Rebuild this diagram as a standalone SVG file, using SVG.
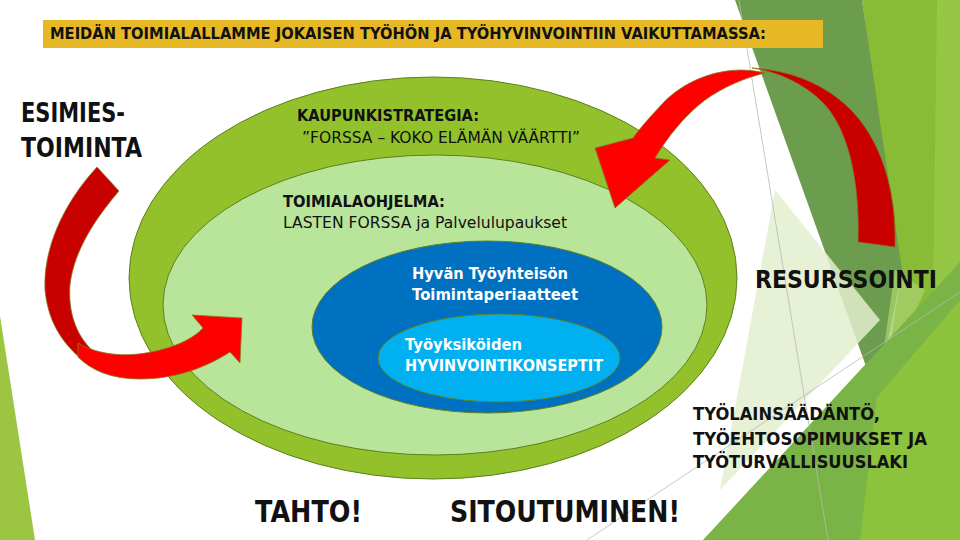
<svg xmlns="http://www.w3.org/2000/svg" width="960" height="540" viewBox="0 0 960 540">
<style>
text{font-family:"DejaVu Sans","Liberation Sans",sans-serif;fill:#111;}
.b{font-weight:bold;}
.w{fill:#fff;}
.ell{stroke:#5f7f1e;stroke-width:1;}
.arr{stroke:#8a7a1e;stroke-width:0.8;stroke-linejoin:round;}
.gl{stroke:#b8b8b8;stroke-width:0.8;fill:none;}
</style>
<rect width="960" height="540" fill="#ffffff"/>
<g id="background">
<polygon points="0,316 35,540 0,540" fill="#9cc642"/>
<polygon points="862,0 960,0 960,540 860,540 900,280" fill="#88bb36"/>
<polygon points="937,0 960,0 960,540 930,540" fill="#96c744"/>
<polygon points="735,0 862,0 902,270 877,397" fill="#6c9c4d"/>
<polygon points="775,190 880,320 720,490" fill="#e3efcf" opacity="0.85"/>
<polygon points="895,270 925,290 877,397" fill="#a6cf6c" opacity="0.8"/>
<polygon points="703,540 960,262 960,540" fill="#7ab446"/>
<polygon points="877,397 960,300 960,540 860,540" fill="#8cc23c"/>
<line class="gl" x1="739" y1="0" x2="828" y2="540"/>
<line class="gl" x1="587" y1="540" x2="960" y2="292"/>
</g>
<g id="title">
<rect x="43" y="20" width="780" height="28" fill="#e6b825"/>
<text class="b" x="50" y="39" font-size="15" textLength="716" lengthAdjust="spacingAndGlyphs">MEIDÄN TOIMIALALLAMME JOKAISEN TYÖHÖN JA TYÖHYVINVOINTIIN VAIKUTTAMASSA:</text>
</g>
<g id="kaupunkistrategia">
<ellipse class="ell" cx="433" cy="278" rx="304" ry="201" fill="#93c12b"/>
<text class="b" x="297" y="121" font-size="15" textLength="182" lengthAdjust="spacingAndGlyphs">KAUPUNKISTRATEGIA:</text>
<text x="302" y="143" font-size="15" textLength="278" lengthAdjust="spacingAndGlyphs">”FORSSA – KOKO ELÄMÄN VÄÄRTTI”</text>
</g>
<g id="toimialaohjelma">
<ellipse class="ell" cx="435" cy="305" rx="272" ry="150" fill="#b8e59a"/>
<text class="b" x="283" y="207" font-size="15" textLength="162" lengthAdjust="spacingAndGlyphs">TOIMIALAOHJELMA:</text>
<text x="283" y="228" font-size="15" textLength="284" lengthAdjust="spacingAndGlyphs">LASTEN FORSSA ja Palvelulupaukset</text>
</g>
<g id="tyoyhteiso">
<ellipse class="ell" cx="487" cy="327" rx="175" ry="86" fill="#0070c0"/>
<text class="b w" x="412" y="279" font-size="16" textLength="156" lengthAdjust="spacingAndGlyphs">Hyvän Työyhteisön</text>
<text class="b w" x="412" y="300" font-size="16" textLength="166" lengthAdjust="spacingAndGlyphs">Toimintaperiaatteet</text>
</g>
<g id="tyoyksikot">
<ellipse class="ell" cx="499" cy="358" rx="121" ry="44" fill="#00b0f0"/>
<text class="b w" x="405" y="350" font-size="16" textLength="117" lengthAdjust="spacingAndGlyphs">Työyksiköiden</text>
<text class="b w" x="405" y="371" font-size="16" textLength="198" lengthAdjust="spacingAndGlyphs">HYVINVOINTIKONSEPTIT</text>
</g>
<g id="connectors">
<g id="arrow-left">
<path class="arr" fill="#c80000" d="M97,167 L119,191 C96,218 74,250 70,285 C68,312 76,335 92,350 L80,358 C60,340 48,320 45,290 C43,250 62,205 97,167 Z"/>
<path class="arr" fill="#ff0000" d="M78,343 C100,356 130,358 160,350 C180,345 195,337 203,328 L192,315 L242,318 L240,363 L230,352 C205,368 175,379 140,379 C112,379 92,371 78,357 Z"/>
</g>
<g id="arrow-right">
<path class="arr" fill="#c80000" d="M858,242 L895,247 C897,185 878,130 840,100 C815,80 785,70 752,68 C780,72 808,86 826,106 C848,132 860,180 858,242 Z"/>
<path class="arr" fill="#ff0000" d="M765,73 C730,64 690,76 664,102 C650,117 640,128 633,138 L595,148 L615,208 L670,160 L655,158 C667,138 684,116 705,100 C725,86 745,78 765,73 Z"/>
</g>
</g>
<g id="esimiestoiminta">
<text class="b" x="21" y="122" font-size="26" textLength="104" lengthAdjust="spacingAndGlyphs">ESIMIES-</text>
<text class="b" x="21" y="157" font-size="26" textLength="121" lengthAdjust="spacingAndGlyphs">TOIMINTA</text>
</g>
<g id="resurssointi">
<text class="b" x="755" y="288" font-size="25" textLength="182" lengthAdjust="spacingAndGlyphs">RESURSSOINTI</text>
</g>
<g id="lainsaadanto">
<text class="b" x="693" y="420" font-size="18" textLength="187" lengthAdjust="spacingAndGlyphs">TYÖLAINSÄÄDÄNTÖ,</text>
<text class="b" x="693" y="445" font-size="18" textLength="234" lengthAdjust="spacingAndGlyphs">TYÖEHTOSOPIMUKSET JA</text>
<text class="b" x="693" y="468" font-size="18" textLength="215" lengthAdjust="spacingAndGlyphs">TYÖTURVALLISUUSLAKI</text>
</g>
<g id="tahto">
<text class="b" x="255" y="522" font-size="30" textLength="107" lengthAdjust="spacingAndGlyphs">TAHTO!</text>
</g>
<g id="sitoutuminen">
<text class="b" x="450" y="522" font-size="30" textLength="230" lengthAdjust="spacingAndGlyphs">SITOUTUMINEN!</text>
</g>
</svg>
